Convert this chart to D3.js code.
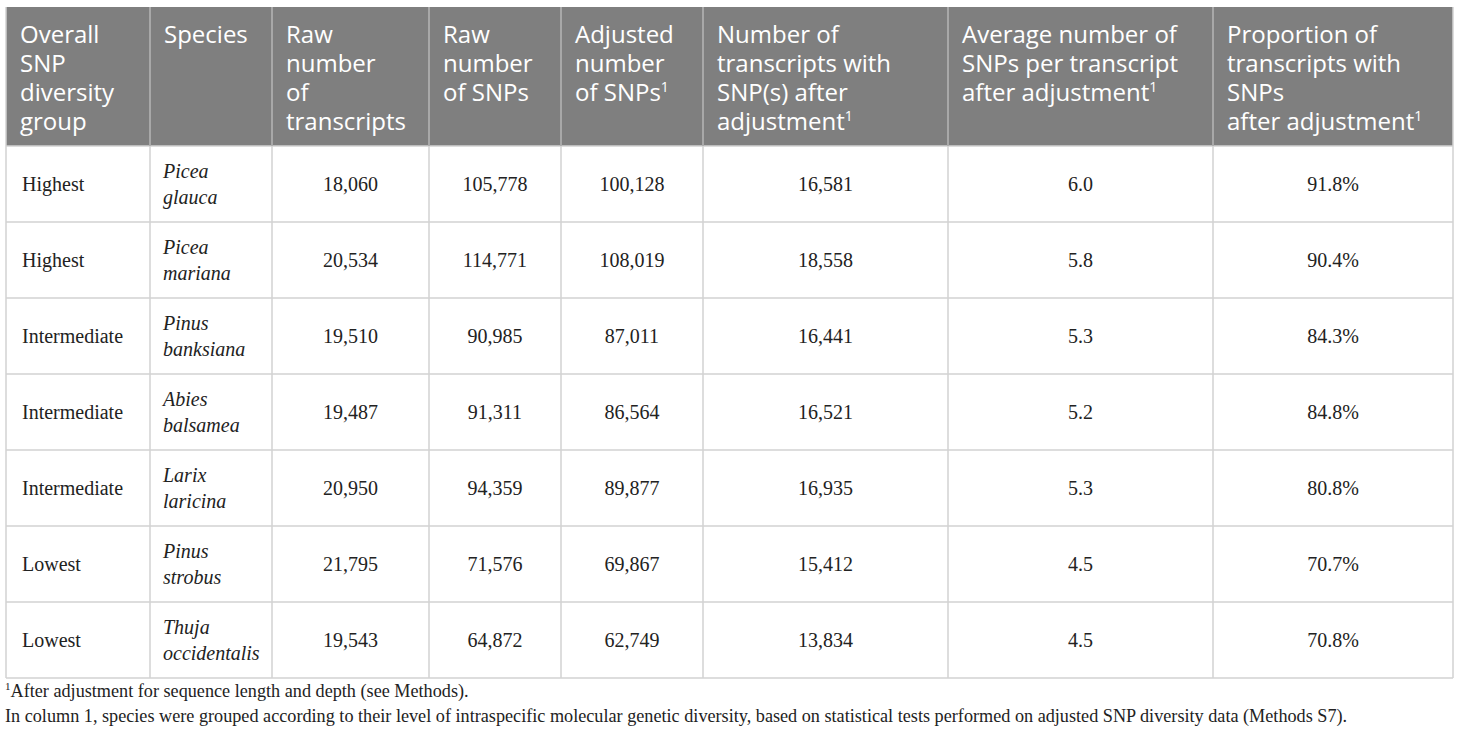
<!DOCTYPE html>
<html>
<head>
<meta charset="utf-8">
<script src="https://cdn.jsdelivr.net/npm/d3@7"></script>
<style>
  body { margin: 0; background: #fff; }
  svg { display: block; }
</style>
</head>
<body>
<div id="chart"></div>
<script>

// table data
var groups = ["Highest", "Highest", "Intermediate", "Intermediate", "Intermediate", "Lowest", "Lowest"];
var genus = ["Picea", "Picea", "Pinus", "Abies", "Larix", "Pinus", "Thuja"];
var epithet = ["glauca", "mariana", "banksiana", "balsamea", "laricina", "strobus", "occidentalis"];
var rawTranscripts = [18060, 20534, 19510, 19487, 20950, 21795, 19543];
var rawSnps = [105778, 114771, 90985, 91311, 94359, 71576, 64872];
var adjSnps = [100128, 108019, 87011, 86564, 89877, 69867, 62749];
var transcriptsWithSnp = [16581, 18558, 16441, 16521, 16935, 15412, 13834];
var avgSnps = [6.0, 5.8, 5.3, 5.2, 5.3, 4.5, 4.5];
var propWithSnps = [91.8, 90.4, 84.3, 84.8, 80.8, 70.7, 70.8];

// header lines, [text, superscript]
var headers = [
    [["Overall"], ["SNP"], ["diversity"], ["group"]],
    [["Species"]],
    [["Raw"], ["number"], ["of"], ["transcripts"]],
    [["Raw"], ["number"], ["of SNPs"]],
    [["Adjusted"], ["number"], ["of SNPs", "1"]],
    [["Number of"], ["transcripts with"], ["SNP(s) after"], ["adjustment", "1"]],
    [["Average number of"], ["SNPs per transcript"], ["after adjustment", "1"]],
    [["Proportion of"], ["transcripts with"], ["SNPs"], ["after adjustment", "1"]]
];

var footnotes = [
    ["1", "After adjustment for sequence length and depth (see Methods)."],
    ["", "In column 1, species were grouped according to their level of intraspecific molecular genetic diversity, based on statistical tests performed on adjusted SNP diversity data (Methods S7)."]
];

// layout
var width = 1460, height = 740;
var colEdges = [6, 150, 272, 429, 561, 703, 948, 1213, 1453];
var headTop = 7, headBottom = 146, tableBottom = 678;

var fmt = d3.format(",");
var rows = groups.map(function(g, i) {
    return [g, [genus[i], epithet[i]], fmt(rawTranscripts[i]), fmt(rawSnps[i]), fmt(adjSnps[i]),
        fmt(transcriptsWithSnp[i]), avgSnps[i].toFixed(1), propWithSnps[i].toFixed(1) + "%"];
});

var svg = d3.select("#chart").append("svg")
    .attr("width", width)
    .attr("height", height);

var y = d3.scaleBand()
    .domain(d3.range(rows.length))
    .range([headBottom, tableBottom]);

var lineColor = "#d2d2d2";

// header background
svg.append("rect")
    .attr("x", colEdges[0]).attr("y", headTop)
    .attr("width", colEdges[colEdges.length - 1] - colEdges[0])
    .attr("height", headBottom - headTop)
    .attr("fill", "#7f7f7f");

// header text
var headG = svg.selectAll(".head")
    .data(headers)
    .enter().append("text")
    .attr("class", "head")
    .attr("font-family", "'Open Sans', sans-serif")
    .attr("font-size", 24)
    .attr("fill", "#fff");

headG.each(function(lines, c) {
    var t = d3.select(this);
    lines.forEach(function(l, k) {
        t.append("tspan")
            .attr("x", colEdges[c] + 14)
            .attr("y", headTop + 36 + k * 29)
            .text(l[0]);
        if (l[1]) {
            t.append("tspan")
                .attr("dy", -9)
                .attr("font-size", 14)
                .text(l[1]);
            t.append("tspan").attr("dy", 9).text("");
        }
    });
});

// grid lines
svg.selectAll(".hline")
    .data(d3.range(rows.length + 1))
    .enter().append("line")
    .attr("x1", colEdges[0]).attr("x2", colEdges[colEdges.length - 1])
    .attr("y1", function(d) { return d < rows.length ? y(d) : tableBottom; })
    .attr("y2", function(d) { return d < rows.length ? y(d) : tableBottom; })
    .attr("stroke", lineColor)
    .attr("stroke-width", 1.5);

svg.selectAll(".vline")
    .data(colEdges)
    .enter().append("line")
    .attr("x1", function(d) { return d; }).attr("x2", function(d) { return d; })
    .attr("y1", headTop)
    .attr("y2", tableBottom)
    .attr("stroke", lineColor)
    .attr("stroke-width", 1.5);

// header separators drawn over grey
svg.selectAll(".hsep")
    .data(colEdges.slice(1, -1))
    .enter().append("line")
    .attr("x1", function(d) { return d; }).attr("x2", function(d) { return d; })
    .attr("y1", headTop).attr("y2", headBottom)
    .attr("stroke", "#9a9a9a")
    .attr("stroke-width", 1.2);

// body cells
var rowG = svg.selectAll(".row")
    .data(rows)
    .enter().append("g")
    .attr("class", "row")
    .attr("transform", function(d, i) { return "translate(0," + (y(i) + y.bandwidth() / 2) + ")"; });

rowG.each(function(r) {
    var g = d3.select(this);
    r.forEach(function(cell, c) {
        if (c === 0) {
            g.append("text")
                .attr("x", colEdges[c] + 16)
                .attr("y", 7)
                .attr("font-family", "'Liberation Serif', serif")
                .attr("font-size", 20)
                .attr("fill", "#222")
                .text(cell);
        } else if (c === 1) {
            var t = g.append("text")
                .attr("font-family", "'Liberation Serif', serif")
                .attr("font-style", "italic")
                .attr("font-size", 20)
                .attr("fill", "#222");
            cell.forEach(function(w, k) {
                t.append("tspan")
                    .attr("x", colEdges[c] + 13)
                    .attr("y", -6 + k * 26)
                    .text(w);
            });
        } else {
            g.append("text")
                .attr("x", (colEdges[c] + colEdges[c + 1]) / 2)
                .attr("y", 7)
                .attr("text-anchor", "middle")
                .attr("font-family", "'Liberation Serif', serif")
                .attr("font-size", 20)
                .attr("fill", "#222")
                .text(cell);
        }
    });
});

// footnotes
var foot = svg.selectAll(".foot")
    .data(footnotes)
    .enter().append("text")
    .attr("class", "foot")
    .attr("x", 5)
    .attr("y", function(d, i) { return 697 + i * 25; })
    .attr("font-family", "'Liberation Serif', serif")
    .attr("font-size", 18.2)
    .attr("fill", "#222");

foot.each(function(d) {
    var t = d3.select(this);
    if (d[0]) {
        t.append("tspan").attr("dy", -7).attr("font-size", 11).text(d[0]);
        t.append("tspan").attr("dy", 7).text(d[1]);
    } else {
        t.text(d[1]);
    }
});

</script>
</body>
</html>
